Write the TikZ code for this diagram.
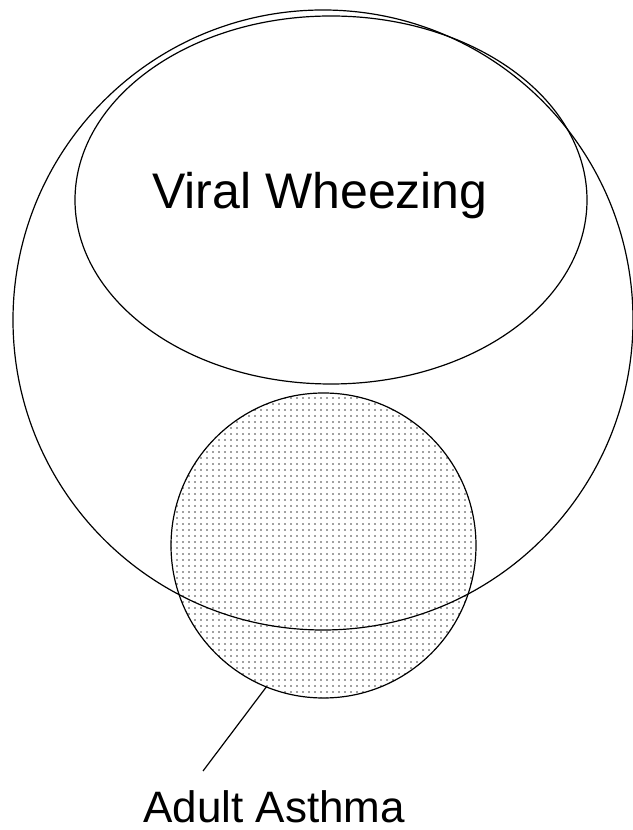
\documentclass[tikz,border=0pt]{standalone}
\usepackage{fontspec}
\setmainfont{Liberation Sans}
\usetikzlibrary{shapes.geometric,positioning}

\begin{document}
\begin{tikzpicture}[
      x=1pt, y=1pt,
      set/.style={draw, line width=1.2pt, inner sep=0pt, outer sep=0pt},
      lbl/.style={font=\fontsize{50}{54}\selectfont, inner sep=0pt},
      dotfill/.style={path picture={
          \foreach \i in {0,...,52}
            \foreach \j in {0,...,52}
              \fill[black!75] ([shift={(\i*6,\j*6)}]path picture bounding box.south west) circle (0.8);
        }}
    ]
      \useasboundingbox (0,0) rectangle (632,830);

      % sets
      \node[set, circle, dotfill, minimum size=305pt] (asthma) at (323.5,284.5) {};
      \node[set, circle, minimum size=620pt] (wheeze) at (323,510) {};
      \node[set, ellipse, minimum width=512pt, minimum height=368pt] (viral) at (331,630) {};
      \node[lbl, anchor=base] (viraltxt) at (320,621) {Viral Wheezing};

      % label
      \node[lbl, font=\fontsize{44}{48}\selectfont, anchor=base west] (adult) at (143,8) {Adult Asthma};
      \coordinate (tip) at (203,59);
      \draw[line width=1.2pt] (asthma.248) -- (tip);
\end{tikzpicture}
\end{document}
